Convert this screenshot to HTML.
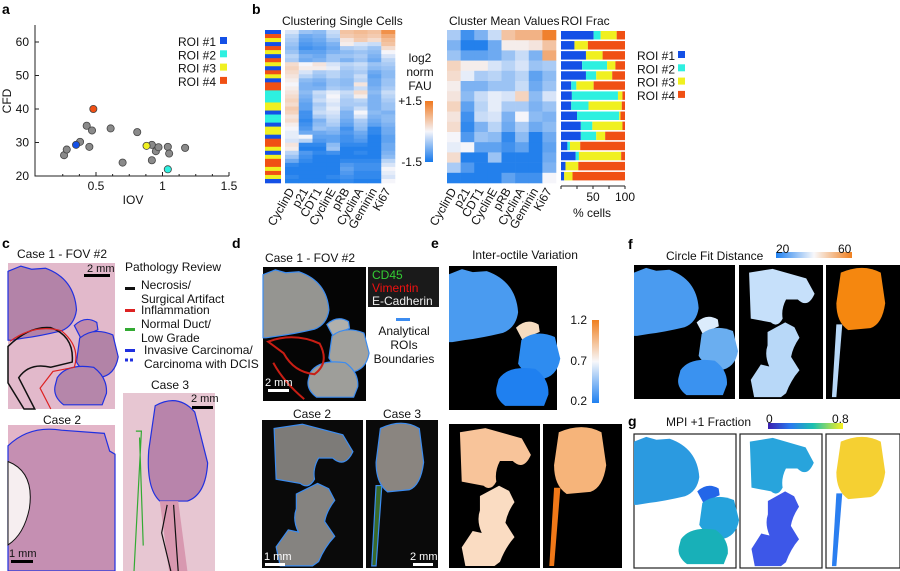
<!DOCTYPE html>
<html><head><meta charset="utf-8">
<style>
html,body{margin:0;padding:0;background:#fff;}
svg{display:block;font-family:"Liberation Sans",Arial,sans-serif;}
.t{font-size:11px;fill:#111;}
.L{font-size:14px;font-weight:bold;fill:#000;}
</style></head>
<body>
<svg id="fig" width="900" height="571" viewBox="0 0 900 571" xmlns="http://www.w3.org/2000/svg">
<g id="pa"></g>
<g id="pb"></g>
<g id="pc"></g>
<g id="pd"></g>
<g id="pe"></g>
<g id="pf"></g>
<g id="pg"></g>
</svg>
<script>
// ---------- data ----------
const iovValues=[0.26,0.28,0.38,0.43,0.47,0.45,0.61,0.70,0.81,0.92,0.95,0.97,0.92,1.04,1.05,1.17];
const cfdValues=[26.2,27.9,30.2,35.0,33.6,28.7,34.2,24.0,33.1,29.3,27.4,28.6,24.7,28.7,26.7,28.4];
const roiIov=[0.35,1.04,0.88,0.48];
const cfdRoi=[29.3,22.0,29.0,40.0];
const roiNames=["ROI #1","ROI #2","ROI #3","ROI #4"];
const roiColors=["#1450e6","#2ef0e0","#f0f020","#f05014"];
const xTicks=[0.5,1,1.5];
const yTicks=[20,30,40,50,60];
const markers=["CyclinD","p21","CDT1","CyclinE","pRB","CyclinA","Geminin","Ki67"];
const cellValues=[
[-0.2,-0.6,-0.7,-0.3,0.6,0.7,0.6,1.2],[-0.4,-0.9,-0.8,-0.4,0.5,0.6,0.5,0.9],[-0.5,-1.0,-0.9,-0.6,0.2,0.5,0.3,0.7],
[-0.6,-1.1,-1.0,-0.8,0.1,-0.2,-0.3,0.6],[-0.7,-1.2,-1.1,-0.9,-0.5,-0.4,-0.6,0.3],[-0.6,-1.0,-1.0,-0.8,-0.7,-0.6,-0.7,0.0],
[-0.4,-0.8,-0.9,-0.6,-0.6,-0.5,-0.8,-0.2],[-0.5,-0.9,-0.8,-0.6,-0.8,-0.6,-0.9,-0.4],[0.3,0.0,0.2,-0.2,-0.4,-0.3,-0.6,-0.5],
[0.4,0.1,0.1,-0.1,-0.5,-0.4,-0.7,-0.6],[0.3,-0.2,-0.5,-0.4,-0.6,-0.5,-0.9,-0.7],[0.2,-0.4,-0.6,-0.4,-0.6,-0.3,-1.0,-0.7],
[0.1,-0.7,-0.8,-0.6,-0.7,-0.4,-0.9,-0.6],[0.0,-0.8,-0.9,-0.6,-0.7,0.2,-0.9,-0.6],[0.1,-0.8,-0.8,-0.5,-0.6,-0.3,-0.8,-0.5],
[0.2,-0.7,-0.3,-0.1,-0.3,0.3,-0.7,-0.3],[0.3,-0.8,-0.4,0.0,-0.4,0.1,-0.8,-0.4],[0.4,-0.9,-0.3,-0.1,-0.5,-0.4,-0.8,-0.5],
[0.3,-1.0,-0.5,-0.2,-0.5,-0.5,-0.8,-0.6],[0.5,-1.0,-0.4,-0.1,-0.6,-0.3,-0.8,-0.6],[0.4,-1.2,-0.3,-0.2,-0.8,0.0,-0.7,-0.8],
[0.2,-1.2,-0.5,-0.3,-0.8,-0.2,-0.8,-0.7],[0.3,-1.3,-0.8,-0.4,-0.9,-0.5,-0.9,-0.7],[0.1,-1.2,-0.7,-0.5,-1.0,-0.6,-1.0,-0.8],
[0.0,-1.1,-0.6,-0.7,-1.2,-0.7,-1.3,-0.9],[-0.1,-0.9,-0.9,-0.8,-1.1,-0.9,-1.3,-0.9],[-0.1,0.0,-1.0,-1.0,-1.2,-1.0,-1.4,-1.0],
[-0.2,-0.4,-1.1,-1.0,-1.2,-1.1,-1.4,-1.0],[0.2,-1.3,-1.3,-0.7,-1.3,-1.3,-1.4,-0.9],[0.1,-1.4,-1.4,-0.6,-1.4,-1.4,-1.4,-0.9],
[-0.4,-1.1,-1.3,-1.2,-1.4,-1.3,-1.4,-0.8],[-0.6,-1.2,-1.4,-1.4,-1.4,-1.4,-1.4,-0.7],[-0.9,-1.3,-1.4,-1.4,-1.3,-1.3,-1.3,-0.4],
[-1.3,-1.4,-1.4,-1.4,-1.1,-1.2,-1.2,-0.2],[-1.4,-1.4,-1.4,-1.4,-1.0,-1.2,-1.2,0.0],[-1.4,-1.4,-1.4,-1.4,-1.1,-1.3,-1.3,-0.1],
[-1.3,-1.4,-1.4,-1.3,-1.2,-1.3,-1.3,-0.2],[-1.4,-1.4,-1.4,-1.4,-1.3,-1.4,-1.4,0.0]];
const cellRoi=[1,4,3,1,4,3,1,4,3,1,4,3,1,4,4,2,2,2,3,3,1,2,2,1,3,3,1,4,4,3,1,3,4,4,3,4,3,1];
const clusterValues=[
[-0.5,-1.2,-0.8,-0.3,0.6,0.8,0.8,1.4],[-0.8,-1.4,-1.4,-0.9,0.1,0.1,0.2,0.6],[-0.6,-1.0,-1.0,-0.9,-0.6,-0.3,-0.8,0.9],
[0.4,0.1,0.1,-0.2,-0.4,-0.2,-0.6,-0.5],[0.3,-0.1,-0.5,-0.4,-0.6,-0.4,-1.0,-0.7],[0.1,-0.8,-0.8,-0.6,-0.6,-0.3,-0.9,-0.6],
[0.2,-0.7,-0.3,-0.1,-0.2,0.4,-0.7,-0.2],[0.4,-1.0,-0.4,-0.1,-0.5,-0.5,-0.8,-0.6],[0.2,-1.2,-0.3,-0.2,-0.8,0.0,-0.7,-0.8],
[0.3,-1.3,-0.8,-0.4,-0.9,-0.5,-0.9,-0.7],[0.0,-1.1,-0.6,-0.7,-1.3,-0.7,-1.4,-0.9],[-0.1,0.0,-1.0,-1.0,-1.2,-1.0,-1.4,-1.0],
[0.3,-1.4,-1.4,-0.6,-1.4,-1.4,-1.4,-0.9],[-0.5,-1.1,-1.4,-1.4,-1.4,-1.4,-1.4,-0.8],[-1.4,-1.4,-1.4,-1.4,-1.0,-1.2,-1.2,0.0]];
const roiFrac=[[51,11,25,13],[21,0,21,58],[39,0,26,35],[33,39,13,15],[39,16,25,20],[16,8,27,49],[17,72,7,4],
[16,27,52,5],[25,66,2,7],[31,18,47,4],[31,24,14,31],[10,4,16,70],[23,5,66,6],[7,0,20,73],[5,0,13,82]];
const fracTicks=[50,100];

const NS="http://www.w3.org/2000/svg";
function mk(parent,tag,attrs,text){const e=document.createElementNS(NS,tag);for(const k in attrs)e.setAttribute(k,attrs[k]);if(text!==undefined)e.textContent=text;parent.appendChild(e);return e;}
function lerp(a,b,t){return a.map((v,i)=>Math.round(v+(b[i]-v)*t));}
function bwo(v){const t=Math.max(-1,Math.min(1,v/1.5));const B=[20,120,235],W=[245,245,250],O=[240,120,30];const c=t<0?lerp(W,B,-t):lerp(W,O,t);return `rgb(${c})`;}

// ---------- panel a ----------
const A=document.getElementById('pa');
const ax=v=>96+(v-0.5)*133, ay=v=>176-(v-20)*3.35;
let e;
e=mk(A,'text',{x:2,y:14,class:'L'},'a');
e=mk(A,'path',{d:'M35,25 V176 H229',fill:'none',stroke:'#222','stroke-width':1});
xTicks.forEach(v=>{mk(A,'line',{x1:ax(v),x2:ax(v),y1:176,y2:172,stroke:'#222'});e=mk(A,'text',{x:ax(v),y:190,class:'t','text-anchor':'middle',style:'font-size:12px'},String(v));});
[0.25,0.375,0.625,0.75,0.875,1.125,1.25,1.375].forEach(v=>mk(A,'line',{x1:ax(v),x2:ax(v),y1:176,y2:174,stroke:'#222'}));
yTicks.forEach(v=>{mk(A,'line',{x1:35,x2:39,y1:ay(v),y2:ay(v),stroke:'#222'});e=mk(A,'text',{x:29,y:ay(v)+4,class:'t','text-anchor':'end',style:'font-size:12px'},String(v));});
e=mk(A,'text',{x:133,y:204,class:'t','text-anchor':'middle',style:'font-size:12px'},'IOV');
e=mk(A,'text',{x:11,y:101,class:'t','text-anchor':'middle',transform:'rotate(-90 11 101)',style:'font-size:12px'},'CFD');
iovValues.forEach((v,i)=>{e=mk(A,'circle',{cx:ax(v),cy:ay(cfdValues[i]),r:3.6,fill:'#8a8a8a',stroke:'#444','stroke-width':0.8});});
roiIov.forEach((v,i)=>{e=mk(A,'circle',{cx:ax(v),cy:ay(cfdRoi[i]),r:3.6,fill:roiColors[i],stroke:'#444','stroke-width':0.8});});
roiNames.forEach((n,i)=>{e=mk(A,'text',{x:216,y:46+i*13.3,class:'t','text-anchor':'end',style:'font-size:12px'},n);mk(A,'rect',{x:220,y:37+i*13.3,width:7,height:7,fill:roiColors[i]});});

// ---------- panel b ----------
const Bp=document.getElementById('pb');
e=mk(Bp,'text',{x:252,y:14,class:'L'},'b');
e=mk(Bp,'text',{x:282,y:25,class:'t',style:'font-size:12px'},'Clustering Single Cells');
e=mk(Bp,'text',{x:449,y:25,class:'t',style:'font-size:12px'},'Cluster Mean Values');
e=mk(Bp,'text',{x:561,y:25,class:'t',style:'font-size:12px'},'ROI Frac');
const sx0=285,sw=110/8,sy0=30,sh=153/cellValues.length;
cellValues.forEach((row,r)=>{
 e=mk(Bp,'rect',{x:265,y:sy0+r*sh,width:16,height:sh+0.3,fill:roiColors[cellRoi[r]-1]});
 row.forEach((v,c)=>{e=mk(Bp,'rect',{x:sx0+c*sw,y:sy0+r*sh,width:sw+0.3,height:sh+0.3,fill:bwo(v)});});
});
markers.forEach((m,c)=>{e=mk(Bp,'text',{x:sx0+c*sw+sw/2+3,y:191,class:'t','text-anchor':'end',style:'font-size:12px',transform:`rotate(-60 ${sx0+c*sw+sw/2+3} 191)`},m);});
const cb=mk(Bp,'defs',{});const lg=mk(cb,'linearGradient',{id:'bwo',x1:0,y1:1,x2:0,y2:0});
[[0,bwo(-1.5)],[0.5,bwo(0)],[1,bwo(1.5)]].forEach(s=>mk(lg,'stop',{offset:s[0],'stop-color':s[1]}));
e=mk(Bp,'rect',{x:425,y:101,width:8,height:61,fill:'url(#bwo)'});
['log2','norm','FAU'].forEach((t,i)=>{e=mk(Bp,'text',{x:420,y:62+i*14,class:'t','text-anchor':'middle',style:'font-size:12px'},t);});
e=mk(Bp,'text',{x:422,y:105,class:'t','text-anchor':'end',style:'font-size:12px'},'+1.5');
e=mk(Bp,'text',{x:422,y:166,class:'t','text-anchor':'end',style:'font-size:12px'},'-1.5');
const cx0=447,cw=109/8,cy0=30,ch=153/clusterValues.length;
clusterValues.forEach((row,r)=>row.forEach((v,c)=>{e=mk(Bp,'rect',{x:cx0+c*cw,y:cy0+r*ch,width:cw+0.3,height:ch+0.3,fill:bwo(v)});}));
markers.forEach((m,c)=>{e=mk(Bp,'text',{x:cx0+c*cw+cw/2+3,y:191,class:'t','text-anchor':'end',style:'font-size:12px',transform:`rotate(-60 ${cx0+c*cw+cw/2+3} 191)`},m);});
const fx=v=>561+v*0.64, fy0=31, fh=151/roiFrac.length;
roiFrac.forEach((row,r)=>{let acc=0;row.forEach((v,k)=>{if(v>0){e=mk(Bp,'rect',{x:fx(acc),y:fy0+r*fh,width:v*0.64,height:fh-1.6,fill:roiColors[k]});}acc+=v;});});
mk(Bp,'line',{x1:561,x2:625,y1:186,y2:186,stroke:'#222'});
[0,25,50,75,100].forEach(v=>mk(Bp,'line',{x1:fx(v),x2:fx(v),y1:186,y2:189,stroke:'#222'}));
fracTicks.forEach(v=>{e=mk(Bp,'text',{x:fx(v),y:201,class:'t','text-anchor':'middle',style:'font-size:12px'},String(v));});
e=mk(Bp,'text',{x:592,y:217,class:'t','text-anchor':'middle',style:'font-size:12px'},'% cells');
roiNames.forEach((n,i)=>{e=mk(Bp,'text',{x:637,y:60+i*13.3,class:'t',style:'font-size:12px'},n);mk(Bp,'rect',{x:678,y:51+i*13.3,width:7,height:7,fill:roiColors[i]});});

// ---------- shapes ----------
const S1={big:'M0,8 L12,3 L22,6 L35,5 Q62,15 64,45 Q62,60 50,65 Q30,70 15,72 L3,74 L0,74 Z',
 cap:'M62,60 Q72,50 83,57 L84,64 Q75,68 68,72 Z',
 mid:'M67,72 Q80,61 98,69 L103,90 Q100,108 85,110 Q70,106 64,95 Z',
 low:'M46,110 Q55,96 80,100 Q93,110 92,125 L88,136 L52,136 Q42,128 44,118 Z'};
const S2={top:'M12,8 L40,4 L80,14 L90,30 Q82,46 70,36 L56,36 Q50,46 52,56 Q46,66 38,60 L14,56 Z',
 bot:'M34,70 L55,60 L66,65 L72,76 Q64,86 62,96 L72,110 Q62,120 56,134 L50,138 L18,138 L14,120 L26,104 L36,106 Q30,94 34,84 Z'};
const S3={head:'M20,8 Q50,-2 74,8 L80,40 Q76,62 60,66 L30,68 Q14,60 14,40 Z', streak:'M14,62 L22,62 L14,138 L8,138 Z'};
function box(parent,x,y,w,h,bg,name,border){const g=mk(parent,'g',{});
 mk(g,'rect',{x:x,y:y,width:w,height:h,fill:bg,stroke:border||'none','stroke-width':1.2});return mk(g,'g',{transform:`translate(${x},${y}) scale(${w/100},${h/140})`});}
function shapes(g,S,fills,stroke){Object.keys(S).forEach((k,i)=>{const p=mk(g,'path',{d:S[k],fill:fills[i],stroke:stroke||'none','stroke-width':stroke?1.2:0,'vector-effect':'non-scaling-stroke'});});}
function txt(p,x,y,s,name,extra){const t=mk(p,'text',Object.assign({x:x,y:y,class:'t'},extra||{}),s);return t;}
function bar(p,x,y,w,col){mk(p,'rect',{x:x,y:y,width:w,height:3,fill:col||'#000'});}

// ---------- panel c ----------
const C=document.getElementById('pc');
txt(C,2,248,'c','panel-c-label',{class:'L'});
txt(C,62,258,'Case 1 - FOV #2','case1-title',{'text-anchor':'middle',style:'font-size:12px'});
let g=box(C,8,263,107,146,'#e2b9cb','he-case1');shapes(g,S1,['#b383a8','#c08aac','#b283a7','#b586aa'],'#2030e0');
mk(g,'path',{d:'M0,80 Q20,60 40,62 Q62,70 60,95 L40,100 Q20,95 10,110 L25,140 L15,140 L0,115 Z',fill:'none',stroke:'#111','stroke-width':1.5,'vector-effect':'non-scaling-stroke'});
mk(g,'path',{d:'M2,75 Q25,58 50,65 Q68,80 62,100 L42,104 L30,120 L40,140',fill:'none',stroke:'#d22','stroke-width':1.2,'vector-effect':'non-scaling-stroke'});
bar(C,84,274,26);txt(C,87,272,'2 mm','scalebar-label',{style:'font-size:11px'});
txt(C,62,424,'Case 2','case2-title',{'text-anchor':'middle',style:'font-size:12px'});
g=box(C,8,425,107,146,'#e3b5c8','he-case2');mk(g,'path',{d:'M0,20 Q20,0 50,5 L90,8 L95,25 L100,28 L100,140 L0,140 Z',fill:'#c58fb2',stroke:'#2030e0','stroke-width':1.2,'vector-effect':'non-scaling-stroke'});
mk(g,'path',{d:'M0,35 Q25,45 20,80 Q15,105 0,115 Z',fill:'#f6eef0',stroke:'#111','stroke-width':1,'vector-effect':'non-scaling-stroke'});
bar(C,11,560,22);txt(C,9,557,'1 mm','scalebar-label-2');
txt(C,170,389,'Case 3','case3-title',{'text-anchor':'middle',style:'font-size:12px'});
g=box(C,123,393,92,178,'#e7c6d2','he-case3');mk(g,'path',{d:'M35,10 Q60,0 78,15 L92,55 Q90,80 70,85 L40,85 Q25,75 28,45 Z',fill:'#b884ab',stroke:'#2030e0','stroke-width':1.2,'vector-effect':'non-scaling-stroke'});
mk(g,'path',{d:'M40,85 L50,140 L70,140 L60,85 Z',fill:'#d898b0'});
mk(g,'path',{d:'M48,88 L42,110 L52,140 M55,88 L58,120 L60,140',fill:'none',stroke:'#111','stroke-width':1.2,'vector-effect':'non-scaling-stroke'});
mk(g,'path',{d:'M14,30 L20,30 L12,140 M18,35 L22,120',fill:'none',stroke:'#3a3','stroke-width':1.2,'vector-effect':'non-scaling-stroke'});
bar(C,192,406,21);txt(C,191,402,'2 mm','scalebar-label-3');
txt(C,125,271,'Pathology Review','pathology-legend-title',{style:'font-size:12px'});
const legC=[['#111','Necrosis/',285],[null,'Surgical Artifact',299],['#d22','Inflammation',310],['#3a3','Normal Duct/',324],[null,'Low Grade',338],['#2030e0','Invasive Carcinoma/',350],[null,'Carcinoma with DCIS',364]];
legC.forEach(l=>{txt(C,l[2]>345?144:141,l[2]+4,l[1],'pathology-legend-entry',{style:'font-size:12px'});});
[[287,'#111'],[309,'#d22'],[328,'#3a3'],[349,'#2030e0']].forEach(p=>mk(C,'rect',{x:125,y:p[0],width:10,height:3,fill:p[1]}));
mk(C,'line',{x1:125,x2:135,y1:360,y2:360,stroke:'#2030e0','stroke-width':3,'stroke-dasharray':'3 2'});

// ---------- panel d ----------
const D=document.getElementById('pd');
txt(D,232,248,'d','panel-d-label',{class:'L'});
txt(D,310,262,'Case 1 - FOV #2','d-case1-title',{'text-anchor':'middle',style:'font-size:12px'});
g=box(D,263,267,103,134,'#050505','if-case1');shapes(g,S1,['#959591','#b0b0ac','#a2a29e','#9e9e9a'],'#3c8cf0');
mk(g,'path',{d:'M5,78 Q30,68 55,80 Q65,100 50,112 Q30,110 20,90 Z M10,100 Q20,120 40,138',fill:'none',stroke:'#c81e14','stroke-width':2,'vector-effect':'non-scaling-stroke'});
bar(D,268,389,21,'#fff');txt(D,265,386,'2 mm','d-scalebar',{style:'font-size:11px;fill:#fff'});
mk(D,'rect',{x:368,y:267,width:71,height:40,fill:'#1a1a1a'});
txt(D,372,279,'CD45','channel-cd45',{style:'font-size:12px;fill:#3c3'});
txt(D,372,292,'Vimentin','channel-vimentin',{style:'font-size:12px;fill:#e11'});
txt(D,372,305,'E-Cadherin','channel-ecadherin',{style:'font-size:12px;fill:#eee'});
mk(D,'rect',{x:396,y:318,width:14,height:3,fill:'#3c8cf0'});
['Analytical','ROIs','Boundaries'].forEach((t,i)=>txt(D,404,335+i*14,t,'roi-boundary-legend',{'text-anchor':'middle',style:'font-size:12px'}));
txt(D,312,418,'Case 2','d-case2-title',{'text-anchor':'middle',style:'font-size:12px'});
txt(D,402,418,'Case 3','d-case3-title',{'text-anchor':'middle',style:'font-size:12px'});
g=box(D,262,420,101,148,'#0a0a0a','if-case2');shapes(g,S2,['#7d7b78','#858380'],'#3c8cf0');
bar(D,265,563,20,'#fff');txt(D,264,560,'1 mm','d-scalebar-2',{style:'font-size:11px;fill:#fff'});
g=box(D,366,420,72,148,'#0a0a0a','if-case3');shapes(g,S3,['#8a8580','#3a6a2a'],'#3c8cf0');
bar(D,413,563,20,'#fff');txt(D,410,560,'2 mm','d-scalebar-3',{style:'font-size:11px;fill:#fff'});

// ---------- panel e ----------
const E=document.getElementById('pe');
txt(E,431,248,'e','panel-e-label',{class:'L'});
txt(E,525,259,'Inter-octile Variation','e-title',{'text-anchor':'middle',style:'font-size:12px'});
g=box(E,449,266,108,144,'#000','iov-map-case1');shapes(g,S1,['#4a9bf0','#f6dcc0','#2e8cf0','#1f80f0']);
const eg=mk(E,'defs',{});const lg2=mk(eg,'linearGradient',{id:'bwo2',x1:0,y1:1,x2:0,y2:0});
[[0,'#1f80f0'],[0.5,'#f8f8fa'],[1,'#f08020']].forEach(s=>mk(lg2,'stop',{offset:s[0],'stop-color':s[1]}));
e=mk(E,'rect',{x:592,y:320,width:7,height:83,fill:'url(#bwo2)'});
[['1.2',324],['0.7',365],['0.2',405]].forEach(t=>txt(E,587,t[1],t[0],'colorbar-e-tick',{'text-anchor':'end',style:'font-size:12px'}));
g=box(E,449,424,91,144,'#000','iov-map-case2');shapes(g,S2,['#f8c49a','#fadcc2']);
g=box(E,543,424,79,144,'#000','iov-map-case3');shapes(g,S3,['#f6b47a','#f07818']);

// ---------- panel f ----------
const F=document.getElementById('pf');
txt(F,628,249,'f','panel-f-label',{class:'L'});
txt(F,666,260,'Circle Fit Distance','f-title',{style:'font-size:12px'});
const lg3=mk(mk(F,'defs',{}),'linearGradient',{id:'bwo3'});
[[0,'#1f80f0'],[0.5,'#f8f8fa'],[1,'#f08020']].forEach(s=>mk(lg3,'stop',{offset:s[0],'stop-color':s[1]}));
e=mk(F,'rect',{x:776,y:252,width:76,height:6,fill:'url(#bwo3)'});
txt(F,776,253,'20','colorbar-f-min',{style:'font-size:12px'});txt(F,838,253,'60','colorbar-f-max',{style:'font-size:12px'});
g=box(F,634,265,101,134,'#000','cfd-map-case1');shapes(g,S1,['#4a9bf0','#dcecfc','#6aaef0','#3a92f0']);
g=box(F,739,265,84,134,'#000','cfd-map-case2');shapes(g,S2,['#c6e0fa','#b8d8f8']);
g=box(F,826,265,74,134,'#000','cfd-map-case3');shapes(g,S3,['#f5870f','#b8d8f8']);

// ---------- panel g ----------
const G=document.getElementById('pg');
txt(G,628,426,'g','panel-g-label',{class:'L'});
txt(G,666,426,'MPI +1 Fraction','g-title',{style:'font-size:12px'});
const lg4=mk(mk(G,'defs',{}),'linearGradient',{id:'par'});
[[0,'#3a1fb0'],[0.3,'#2a7af0'],[0.6,'#1cc0b0'],[1,'#f8f020']].forEach(s=>mk(lg4,'stop',{offset:s[0],'stop-color':s[1]}));
e=mk(G,'rect',{x:768,y:423,width:75,height:6,fill:'url(#par)'});
txt(G,766,423,'0','colorbar-g-min',{style:'font-size:12px'});txt(G,832,423,'0.8','colorbar-g-max',{style:'font-size:12px'});
g=box(G,634,434,102,134,'#fff','mpi-map-case1','#222');shapes(g,S1,['#2b9ae0','#2366e8','#25a2dc','#18b0b8']);
g=box(G,740,434,82,134,'#fff','mpi-map-case2','#222');shapes(g,S2,['#28a4dc','#3d57e8']);
g=box(G,826,434,74,134,'#fff','mpi-map-case3','#222');shapes(g,S3,['#f5d032','#2a7ef0']);
</script>
</body></html>
